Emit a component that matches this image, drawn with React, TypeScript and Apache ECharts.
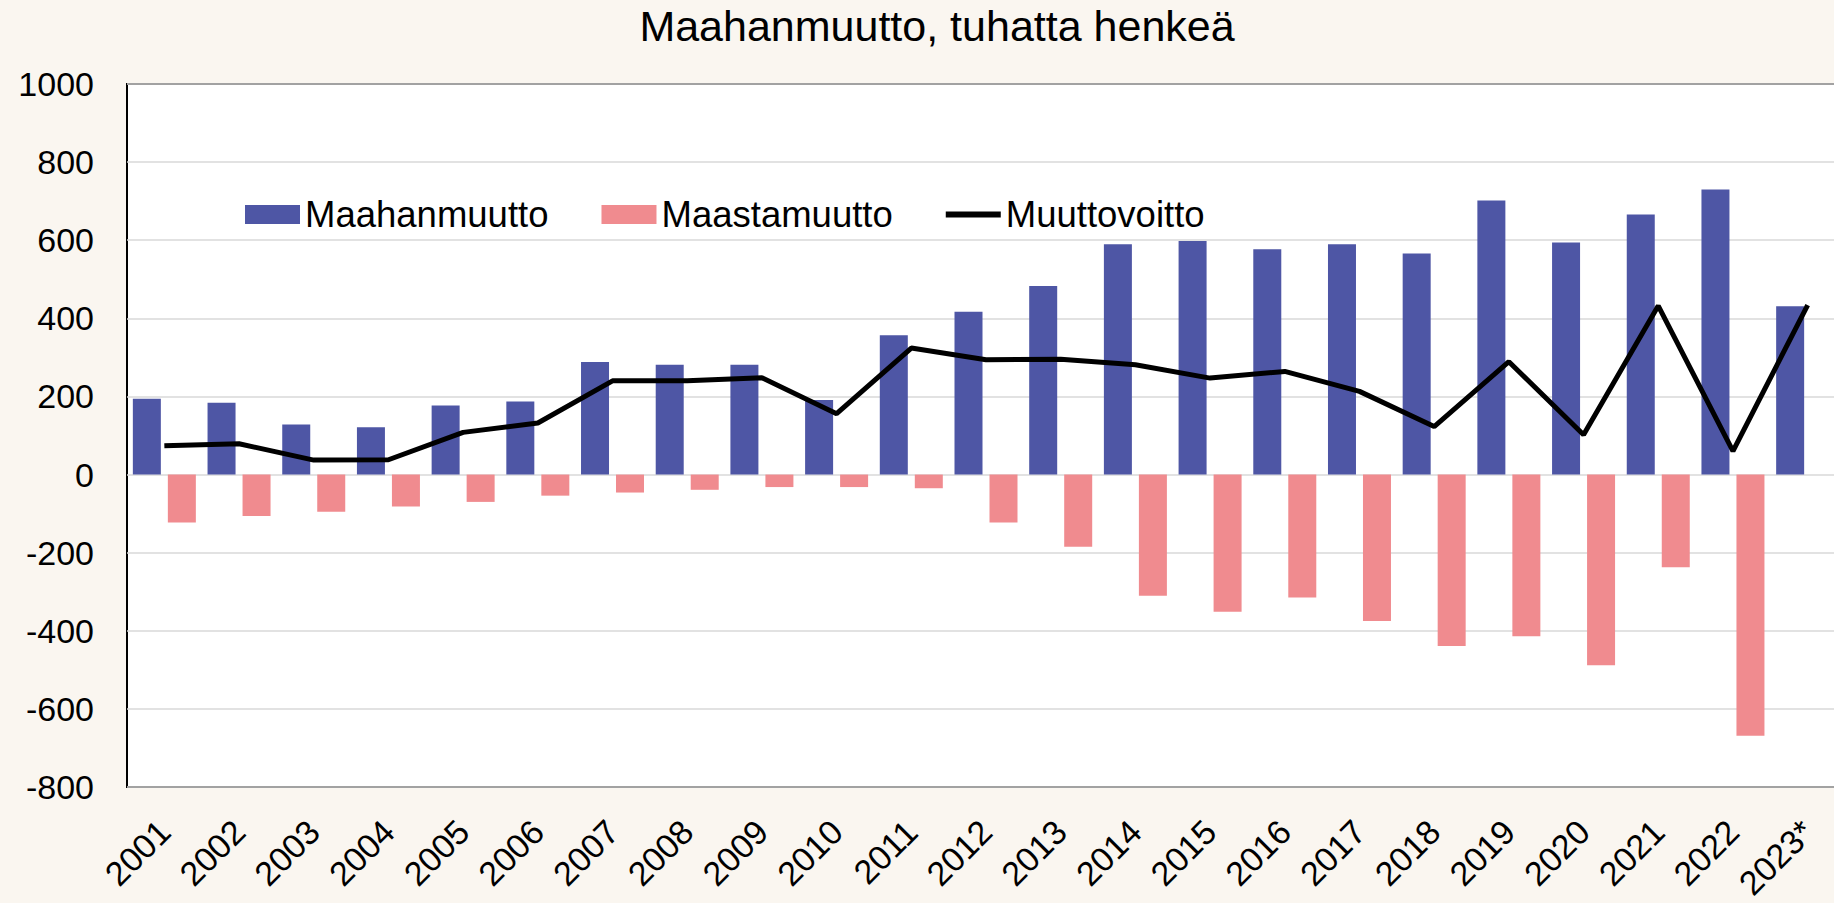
import React, { useEffect, useRef } from "react";
import * as echarts from "echarts";

const titleText = "Maahanmuutto, tuhatta henkeä";
const years = [
  "2001", "2002", "2003", "2004", "2005", "2006", "2007", "2008", "2009", "2010", "2011", "2012",
  "2013", "2014", "2015", "2016", "2017", "2018", "2019", "2020", "2021", "2022", "2023*",
];
const immigration = [194, 184, 128, 121, 177, 187, 288, 281, 281, 191, 357, 417, 483, 590, 598, 577, 590, 566, 702, 594, 666, 730, 431];
const emigration = [-123, -106, -95, -82, -70, -54, -46, -39, -32, -32, -35, -123, -185, -310, -351, -315, -375, -439, -414, -488, -237, -669, null];
const netMigration = [74, 79, 37, 38, 108, 132, 240, 240, 248, 156, 324, 294, 295, 281, 247, 264, 213, 123, 289, 102, 432, 60, 434];
const seriesNames = ["Maahanmuutto", "Maastamuutto", "Muuttovoitto"];

const FONT = '"Liberation Sans", Arial, sans-serif';

export default function App() {
  const ref = useRef<HTMLDivElement>(null);
  useEffect(() => {
    document.body.style.margin = "0";
    const chart = echarts.init(ref.current!, null, { renderer: "svg" });
    chart.setOption({
      animation: false,
      backgroundColor: "#FAF6F0",
      textStyle: { fontFamily: FONT },
      graphic: [
        {
          type: "text",
          x: 937,
          y: 26,
          style: {
            text: titleText,
            font: `43px ${FONT}`,
            fill: "#000",
            textAlign: "center",
            textVerticalAlign: "middle",
          },
        },
      ],
      legend: {
        left: 245,
        top: 196,
        padding: 0,
        itemWidth: 55,
        itemHeight: 19,
        itemGap: 53,
        textStyle: { fontSize: 36.5, color: "#000", fontFamily: FONT },
        data: [
          { name: seriesNames[0], icon: "rect" },
          { name: seriesNames[1], icon: "rect" },
          { name: seriesNames[2], icon: "path://M0,0H55V6H0Z" },
        ],
      },
      grid: {
        left: 127,
        top: 84,
        width: 1718,
        height: 707,
        show: true,
        backgroundColor: "#FFFFFF",
        borderColor: "#000",
        borderWidth: 2,
        containLabel: false,
      },
      xAxis: {
        type: "category",
        data: years,
        axisLine: { show: false, onZero: false },
        axisTick: { show: false },
        axisLabel: {
          interval: 0,
          rotate: 45,
          margin: 39,
          fontSize: 34,
          color: "#000",
          fontFamily: FONT,
        },
        splitLine: { show: false },
      },
      yAxis: {
        type: "value",
        min: -800,
        max: 1000,
        interval: 200,
        axisLine: { show: false },
        axisTick: { show: false },
        axisLabel: {
          fontSize: 34,
          margin: 33,
          color: "#000",
          fontFamily: FONT,
          formatter: (v: number) => String(v),
        },
        splitLine: { lineStyle: { color: "#D9D9D9", width: 1.5 } },
      },
      series: [
        {
          name: seriesNames[0],
          type: "bar",
          data: immigration,
          barWidth: 28,
          barGap: "25%",
          itemStyle: { color: "#4E56A5" },
        },
        {
          name: seriesNames[1],
          type: "bar",
          data: emigration,
          barWidth: 28,
          itemStyle: { color: "#F08B8F" },
        },
        {
          name: seriesNames[2],
          type: "line",
          data: netMigration,
          symbol: "none",
          lineStyle: { color: "#000", width: 5 },
          itemStyle: { color: "#000" },
          z: 5,
        },
      ],
    });
    return () => chart.dispose();
  }, []);
  return (
    <div style={{ width: 1834, height: 903, overflow: "hidden", position: "relative" }}>
      <div ref={ref} style={{ width: 1900, height: 903 }} />
    </div>
  );
}
